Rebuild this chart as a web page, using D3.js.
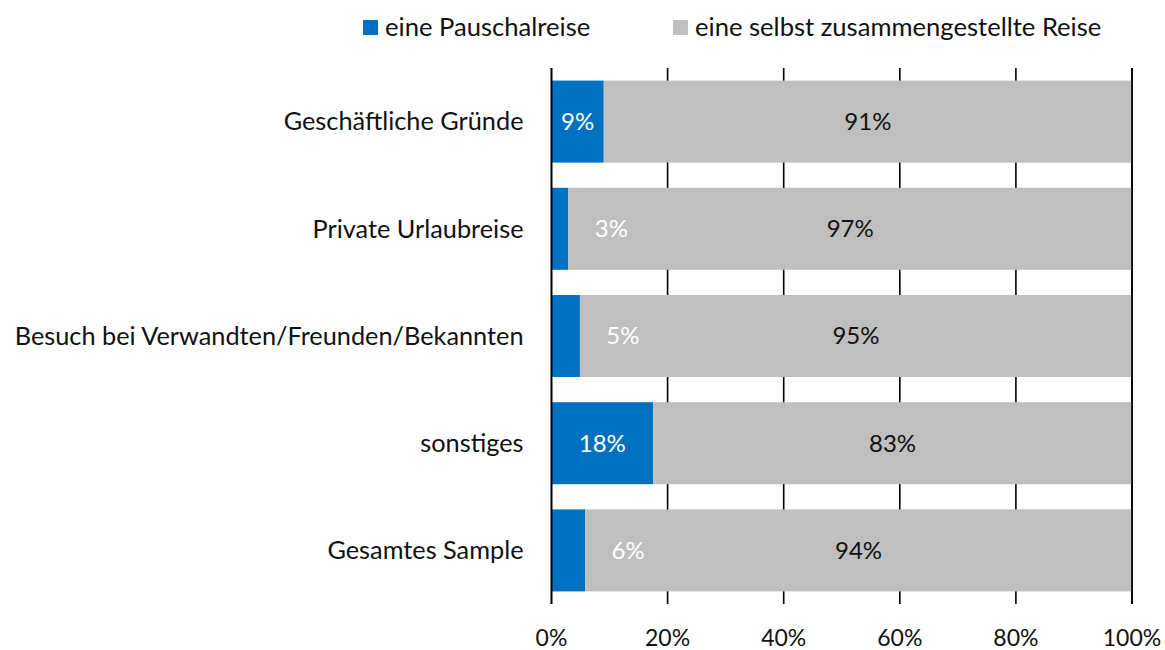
<!DOCTYPE html>
<html>
<head>
<meta charset="utf-8">
<script src="https://cdn.jsdelivr.net/npm/d3@7"></script>
<style>
  body { margin: 0; background: #fff; }
  svg text { font-family: "Lato", "Noto Sans", sans-serif; fill: #111; }
</style>
</head>
<body>
<svg width="1165" height="650"></svg>
<script>
const categories = ["Geschäftliche Gründe", "Private Urlaubreise", "Besuch bei Verwandten/Freunden/Bekannten", "sonstiges", "Gesamtes Sample"]
const pauschal = [9, 2.9, 4.9, 17.5, 5.8]
const selbst = [91, 97.1, 95.1, 82.5, 94.2]
const seriesNames = ["eine Pauschalreise", "eine selbst zusammengestellte Reise"]
const tickValues = [0, 20, 40, 60, 80, 100]

const svg = d3.select("svg"),
      margin = {top: 68, right: 33, bottom: 46, left: 551.5},
      width = 1165 - margin.left - margin.right,
      height = 650 - margin.top - margin.bottom,
      g = svg.append("g").attr("transform", "translate(" + margin.left + "," + margin.top + ")")

const colors = d3.scaleOrdinal().domain(seriesNames).range(["#0070C0", "#BFBFBF"])

const x = d3.scaleLinear().domain([0, 100]).range([0, width]),
      y = d3.scaleBand().domain(categories).range([0, height]).paddingInner(0.235).paddingOuter(0.1175)

const rows = categories.map((c, i) => ({cat: c, a: pauschal[i], b: selbst[i]}))

// gridlines behind the bars
g.selectAll(".grid")
  .data(tickValues.slice(1))
  .enter().append("line")
    .attr("x1", d => x(d)).attr("x2", d => x(d))
    .attr("y1", 0).attr("y2", height)
    .style("stroke", "#000").style("stroke-width", 1.6)

g.selectAll(".barA")
  .data(rows)
  .enter().append("rect")
    .attr("x", x(0))
    .attr("y", d => y(d.cat))
    .attr("width", d => x(d.a) - x(0))
    .attr("height", y.bandwidth())
    .style("fill", colors(seriesNames[0]))

g.selectAll(".barB")
  .data(rows)
  .enter().append("rect")
    .attr("x", d => x(d.a))
    .attr("y", d => y(d.cat))
    .attr("width", d => x(d.a + d.b) - x(d.a))
    .attr("height", y.bandwidth())
    .style("fill", colors(seriesNames[1]))

// 0% axis line on top
g.append("line")
  .attr("x1", x(0)).attr("x2", x(0)).attr("y1", 0).attr("y2", height)
  .style("stroke", "#000").style("stroke-width", 2)

// 100% line drawn over bar edge
g.append("line")
  .attr("x1", x(100)).attr("x2", x(100)).attr("y1", 0).attr("y2", height)
  .style("stroke", "#000").style("stroke-width", 1.6)

// value labels
g.selectAll(".labelA")
  .data(rows)
  .enter().append("text")
    .attr("x", d => d.a < 8 ? x(d.a) + 43 : x(d.a / 2))
    .attr("y", d => y(d.cat) + y.bandwidth() / 2)
    .attr("dy", "0.35em")
    .attr("text-anchor", "middle")
    .style("font-size", "24px")
    .style("fill", "#fff")
    .text(d => Math.round(d.a) + "%")

g.selectAll(".labelB")
  .data(rows)
  .enter().append("text")
    .attr("x", d => x(d.a + d.b / 2))
    .attr("y", d => y(d.cat) + y.bandwidth() / 2)
    .attr("dy", "0.35em")
    .attr("text-anchor", "middle")
    .style("font-size", "24px")
    .text(d => Math.round(d.b) + "%")

// category labels
g.selectAll(".cat")
  .data(categories)
  .enter().append("text")
    .attr("x", -28)
    .attr("y", d => y(d) + y.bandwidth() / 2)
    .attr("dy", "0.35em")
    .attr("text-anchor", "end")
    .style("font-size", "25.3px")
    .text(d => d)

// x tick labels
g.selectAll(".tick")
  .data(tickValues)
  .enter().append("text")
    .attr("x", d => x(d))
    .attr("y", height + 34)
    .attr("dy", "0.35em")
    .attr("text-anchor", "middle")
    .style("font-size", "23px")
    .text(d => d + "%")

// legend
const legendX = [363, 673]
const legend = svg.selectAll(".legend")
  .data(seriesNames)
  .enter().append("g")
    .attr("transform", (d, i) => "translate(" + legendX[i] + ",20)")

legend.append("rect")
  .attr("width", 15).attr("height", 15)
  .style("fill", d => colors(d))

legend.append("text")
  .attr("x", 22).attr("y", 7.5)
  .attr("dy", "0.35em")
  .style("font-size", "25.6px")
  .text(d => d)
</script>
</body>
</html>
